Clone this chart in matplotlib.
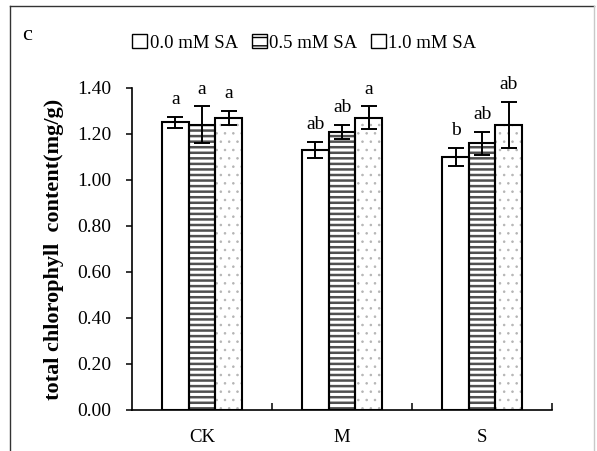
import matplotlib
matplotlib.use("Agg")
import matplotlib.pyplot as plt
from matplotlib.patches import Patch
from matplotlib.lines import Line2D
import numpy as np

plt.rcParams['font.family'] = ['Liberation Serif', 'DejaVu Serif']

# data
groups = ["CK", "M", "S"]
series = ["0.0 mM SA", "0.5 mM SA", "1.0 mM SA"]
means = [
    [1.25, 1.13, 1.10],   # 0.0 mM SA
    [1.24, 1.21, 1.16],   # 0.5 mM SA
    [1.27, 1.27, 1.24],   # 1.0 mM SA
]
errs = [
    [0.025, 0.035, 0.04],
    [0.08, 0.03, 0.05],
    [0.03, 0.05, 0.10],
]
letters = [
    ["a", "ab", "b"],
    ["a", "ab", "ab"],
    ["a", "a", "ab"],
]
yticks = [0.0, 0.2, 0.4, 0.6, 0.8, 1.0, 1.2, 1.4]

hatches = [None, "---", ".."]
hatch_cols = ["white", "#505050", "#b4b4b4"]
hatch_lws = [1.0, 1.8, 0.6]

fig = plt.figure(figsize=(5.97, 4.51), dpi=100)
ax = fig.add_axes([0.221, 0.091, 0.704, 0.714])

x = np.arange(1, len(groups) + 1)
w = 0.19
for i in range(len(series)):
    pos = x + (i - 1) * w
    # hatch layer, then outline layer
    plt.rcParams['hatch.linewidth'] = hatch_lws[i]
    ax.bar(pos, means[i], w, color="white", edgecolor=hatch_cols[i],
           hatch=hatches[i], linewidth=0, zorder=2)
    ax.bar(pos, means[i], w, color="none", edgecolor="black",
           linewidth=1.5, zorder=3)
    ax.errorbar(pos, means[i], yerr=errs[i], fmt="none", ecolor="black",
                elinewidth=1.4, capsize=6, capthick=1.4, zorder=4)
    for p, m, e, t in zip(pos, means[i], errs[i], letters[i]):
        ax.text(p, m + e + 0.075, t, ha="center", va="center", fontsize=14)

plt.rcParams['hatch.linewidth'] = 1.0

ax.set_xlim(0.5, 3.5)
ax.set_ylim(0, 1.4)
ax.set_yticks(yticks)
ax.set_yticklabels(["%.2f" % v for v in yticks], fontsize=14)
ax.set_xticks(x)
ax.set_xticklabels(groups, fontsize=13.5)
ax.set_xticks([1.5, 2.5, 3.5], minor=True)
ax.tick_params(axis="x", which="major", length=0, pad=14)
ax.tick_params(axis="x", which="minor", direction="in", length=5, width=1.1)
ax.tick_params(axis="y", direction="out", length=4, width=1.1, pad=11)
for s in ["top", "right"]:
    ax.spines[s].set_visible(False)
for s in ["left", "bottom"]:
    ax.spines[s].set_linewidth(1.2)

ax.set_ylabel("total chlorophyll  content(mg/g)", fontsize=16,
              fontweight="bold", labelpad=9)

handles = [Patch(facecolor="white", edgecolor="black", hatch=h, linewidth=1)
           for h in [None, "--", None]]
fig.legend(handles, series, loc="center", bbox_to_anchor=(0.51, 0.905),
           ncol=3, frameon=False, fontsize=13.5, handlelength=0.8,
           handleheight=0.8, handletextpad=0.15, columnspacing=0.7)

fig.text(0.045, 0.922, "c", fontsize=16, ha="center", va="center")

# outer frame
fig.add_artist(Line2D([0.017, 0.017], [0.0, 0.987], color="#333333", lw=1))
fig.add_artist(Line2D([0.017, 0.995], [0.987, 0.987], color="#333333", lw=1))
fig.add_artist(Line2D([0.995, 0.995], [0.0, 0.987], color="#c8c8c8", lw=1))

fig.savefig("out.png", dpi=100)
